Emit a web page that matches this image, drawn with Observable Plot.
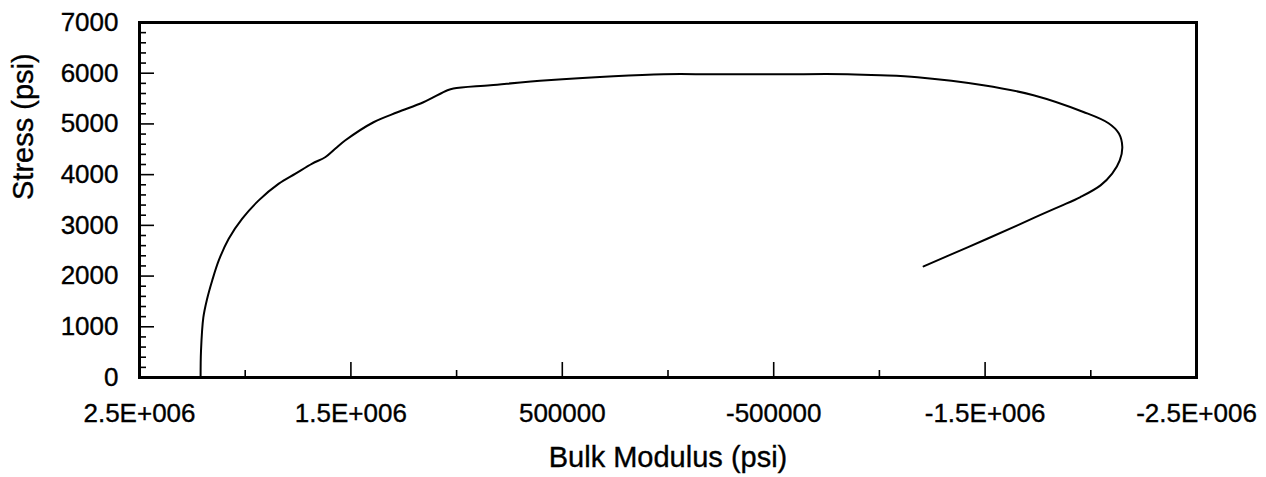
<!DOCTYPE html>
<html>
<head>
<meta charset="utf-8">
<script src="https://cdn.jsdelivr.net/npm/d3@7"></script>
<script src="https://cdn.jsdelivr.net/npm/@observablehq/plot@0.6"></script>
<style>
  html, body { margin: 0; padding: 0; background: #fff; }
  #chart svg { display: block; }
  #chart svg text { stroke: #000; stroke-width: 0.35px; }
</style>
</head>
<body>
<div id="chart"></div>
<script>
// Bulk modulus (psi) along the curve, in drawing order
const modulus = [
  2211000, 2209000, 2198000, 2180000, 2156000, 2125000, 2078000, 2014000,
  1936000, 1841000, 1762000, 1683000, 1620000, 1573000, 1526000, 1393000,
  1280000, 1157000, 1043000, 1015000, 840000, 570000, 258000, 21000,
  -215000, -532000, -849000, -1005000, -1180000, -1492000, -1729000, -1965000,
  -2084000, -2133000, -2149000, -2137000, -2101000, -2046000, -1951000, -1857000,
  -1762000, -1653000, -1417000, -1209000
];
// Stress (psi) along the curve
const stress = [
  0, 533, 1184, 1553, 1914, 2309, 2737, 3132,
  3493, 3823, 4020, 4218, 4348, 4514, 4677, 5033,
  5230, 5427, 5664, 5698, 5763, 5862, 5941, 5980,
  5980, 5980, 5980, 5960, 5921, 5763, 5566, 5236,
  5013, 4810, 4545, 4283, 4020, 3789, 3558, 3380,
  3207, 3000, 2566, 2191
];

const xDomain = [2500000, -2500000];
const yDomain = [0, 7000];
const xTicks = [2500000, 1500000, 500000, -500000, -1500000, -2500000];
const xTickLabels = ["2.5E+006", "1.5E+006", "500000", "-500000", "-1.5E+006", "-2.5E+006"];
const xMinorTicks = [2000000, 1000000, 0, -1000000, -2000000];
const yTicks = [0, 1000, 2000, 3000, 4000, 5000, 6000, 7000];
const yMinorTicks = d3.range(200, 7000, 200).filter(v => v % 1000 !== 0);
const xTitle = "Bulk Modulus (psi)";
const yTitle = "Stress (psi)";

const data = modulus.map((m, i) => ({modulus: m, stress: stress[i]}));

const font = "'Liberation Sans', Arial, Helvetica, sans-serif";

const chart = Plot.plot({
  width: 1266,
  height: 477,
  marginLeft: 139,
  marginRight: 70,
  marginTop: 22,
  marginBottom: 100,
  style: {fontFamily: font, color: "#000", background: "#fff"},
  x: {domain: xDomain},
  y: {domain: yDomain},
  marks: [
    // inward tick marks
    Plot.axisY(yTicks.filter(v => v > 0 && v < 7000), {anchor: "left", tickSize: 15, dx: 15, tickFormat: () => "", label: null, strokeWidth: 1.6}),
    Plot.axisY(yMinorTicks, {anchor: "left", tickSize: 7, dx: 7, tickFormat: () => "", label: null, strokeWidth: 1.6}),
    Plot.axisX(xTicks.filter(v => v < 2500000 && v > -2500000), {anchor: "bottom", tickSize: 15, dy: -15, tickFormat: () => "", label: null, strokeWidth: 1.6}),
    Plot.axisX(xMinorTicks, {anchor: "bottom", tickSize: 7, dy: -7, tickFormat: () => "", label: null, strokeWidth: 1.6}),
    // tick labels
    Plot.axisY(yTicks, {anchor: "left", tickSize: 0, tickPadding: 21, fontSize: 26, label: null, tickFormat: d => String(d)}),
    Plot.axisX(xTicks, {anchor: "bottom", tickSize: 0, tickPadding: 26, fontSize: 26, label: null,
      tickFormat: d => xTickLabels[xTicks.indexOf(d)]}),
    // axis titles
    Plot.text([xTitle], {text: d => d, frameAnchor: "bottom", dy: 80, fontSize: 29, lineAnchor: "middle"}),
    Plot.text([yTitle], {text: d => d, frameAnchor: "left", dx: -116, rotate: -90, fontSize: 29, lineAnchor: "middle"}),
    // curve
    Plot.line(data, {x: "modulus", y: "stress", stroke: "#000", strokeWidth: 2, curve: "catmull-rom"}),
    Plot.frame({stroke: "#000", strokeWidth: 3})
  ]
});
document.getElementById("chart").appendChild(chart);
</script>
</body>
</html>
